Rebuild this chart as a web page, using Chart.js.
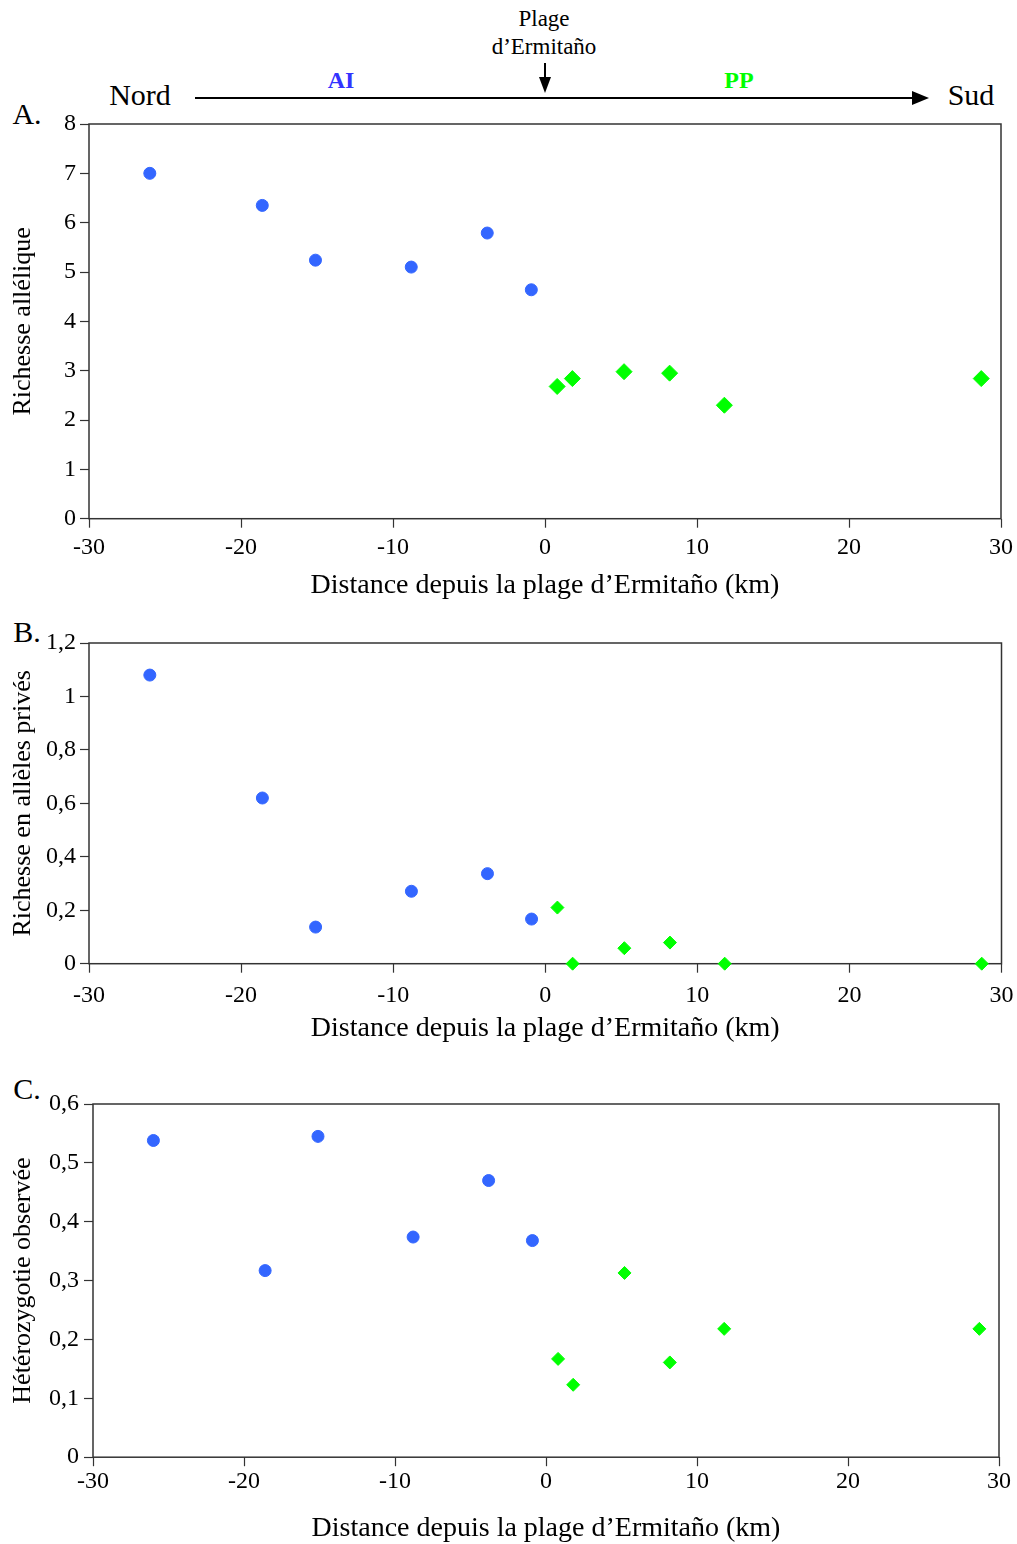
<!DOCTYPE html>
<html><head><meta charset="utf-8">
<script src="https://cdn.jsdelivr.net/npm/chart.js@4.4.1/dist/chart.umd.min.js"></script>
<style>
html,body{margin:0;padding:0;background:#fff;}
#page{position:relative;width:1017px;height:1544px;overflow:hidden;font-family:"Liberation Serif","Times New Roman",serif;color:#000;}
.t{position:absolute;white-space:nowrap;line-height:1;transform:translate(-50%,-50%);}
.cw{position:absolute;left:0;}
</style></head><body>
<div id="page">
<svg width="1017" height="110" style="position:absolute;left:0;top:0">
 <line x1="195" y1="98" x2="914" y2="98" stroke="#000" stroke-width="2"/>
 <polygon points="912,91 929,98 912,105" fill="#000"/>
 <line x1="545" y1="63" x2="545" y2="80" stroke="#000" stroke-width="2"/>
 <polygon points="539,77 551,77 545,93" fill="#000"/>
</svg>
<div class="t" style="left:544px;top:18px;font-size:23px">Plage</div>
<div class="t" style="left:544px;top:46px;font-size:23px">d’Ermitaño</div>
<div class="t" style="left:341px;top:80px;font-size:24px;font-weight:bold;color:#3333ff">AI</div>
<div class="t" style="left:739px;top:80px;font-size:24px;font-weight:bold;color:#00ff00">PP</div>
<div class="t" style="left:140px;top:95px;font-size:30px">Nord</div>
<div class="t" style="left:971px;top:95px;font-size:30px">Sud</div>
<div class="t" style="left:27px;top:114px;font-size:30px">A.</div>
<div class="t" style="left:27px;top:632px;font-size:30px">B.</div>
<div class="t" style="left:27px;top:1089px;font-size:30px">C.</div>
<div class="cw" id="wA"><canvas id="cA"></canvas></div>
<div class="cw" id="wB"><canvas id="cB"></canvas></div>
<div class="cw" id="wC"><canvas id="cC"></canvas></div>
</div>
<script>
// ---------- DATA ----------
const xTitle = "Distance depuis la plage d’Ermitaño (km)";
const distAI = [-26.0, -18.6, -15.1, -8.8, -3.8, -0.9];
const distPP = [0.8, 1.8, 5.2, 8.2, 11.8, 28.7];
const xTicks = [-30, -20, -10, 0, 10, 20, 30];

const titleA = "Richesse allélique";
const richAI = [7.0, 6.35, 5.24, 5.10, 5.79, 4.64];
const richPP = [2.68, 2.84, 2.98, 2.95, 2.30, 2.84];
const yTicksA = [0, 1, 2, 3, 4, 5, 6, 7, 8];

const titleB = "Richesse en allèles privés";
const privAI = [1.08, 0.62, 0.137, 0.271, 0.337, 0.167];
const privPP = [0.21, 0, 0.058, 0.079, 0, 0];
const yTicksB = [0, 0.2, 0.4, 0.6, 0.8, 1, 1.2];

const titleC = "Hétérozygotie observée";
const hetAI = [0.538, 0.317, 0.545, 0.374, 0.470, 0.368];
const hetPP = [0.167, 0.123, 0.313, 0.161, 0.218, 0.218];
const yTicksC = [0, 0.1, 0.2, 0.3, 0.4, 0.5, 0.6];

// ---------- STYLE / LAYOUT ----------
const FONT = "'Liberation Serif','Times New Roman',serif";
const BLUE = '#3366ff', GREEN = '#00ff00';
const TICK_SIZE = 24, XT_SIZE = 28, YT_SIZE = 26, TL = 9;

const framePlugin = {
  id: 'frame',
  beforeDatasetsDraw(chart) {
    const {ctx, chartArea: a} = chart;
    ctx.save();
    ctx.strokeStyle = '#333';
    ctx.lineWidth = 1.5;
    ctx.strokeRect(a.left, a.top, a.right - a.left, a.bottom - a.top);
    ctx.restore();
  }
};

const fmt = v => String(v).replace('.', ',');
const pts = (xs, ys) => xs.map((x, i) => ({x: x, y: ys[i]}));

function makeChart(id, wrapId, lay, yTicks, yTitle, aiVals, ppVals, diamondR) {
  const padTop = 30;
  const canvasTop = lay.T - padTop;
  const xH = lay.titleC + XT_SIZE * 0.6 - lay.B;
  const height = Math.round(lay.B + xH - canvasTop);
  const wrap = document.getElementById(wrapId);
  wrap.style.top = canvasTop + 'px';
  const cv = document.getElementById(id);
  cv.width = 1017; cv.height = height;
  cv.style.width = '1017px'; cv.style.height = height + 'px';
  const xPad = lay.tickC - lay.B - TL - TICK_SIZE * 0.6;
  new Chart(cv, {
    type: 'scatter',
    data: {
      datasets: [
        {label: 'AI', data: pts(distAI, aiVals), pointStyle: 'circle', pointRadius: 6,
         pointHoverRadius: 6, pointBorderWidth: 1, backgroundColor: BLUE, borderColor: BLUE, clip: false},
        {label: 'PP', data: pts(distPP, ppVals), pointStyle: 'rectRot', pointRadius: diamondR,
         pointHoverRadius: diamondR, pointBorderWidth: 1, backgroundColor: GREEN, borderColor: GREEN, clip: false}
      ]
    },
    options: {
      responsive: false, animation: false, devicePixelRatio: 1,
      layout: {padding: {top: padTop, right: 1017 - lay.R, left: 0, bottom: 0}},
      plugins: {legend: {display: false}, tooltip: {enabled: false}},
      events: [],
      scales: {
        x: {
          type: 'linear', min: xTicks[0], max: xTicks[xTicks.length - 1],
          afterBuildTicks: s => { s.ticks = xTicks.map(v => ({value: v})); },
          afterFit: s => { s.height = xH; s.paddingLeft = 0; s.paddingRight = 0; },
          ticks: {color: '#000', font: {family: FONT, size: TICK_SIZE}, padding: xPad, maxRotation: 0,
                  callback: v => fmt(v)},
          grid: {display: true, drawOnChartArea: false, drawTicks: true, tickLength: TL, tickColor: '#333', tickWidth: 1.2},
          border: {display: false},
          title: {display: true, text: xTitle, color: '#000', font: {family: FONT, size: XT_SIZE}, padding: {top: 0, bottom: 0}}
        },
        y: {
          type: 'linear', min: yTicks[0], max: yTicks[yTicks.length - 1],
          afterBuildTicks: s => { s.ticks = yTicks.map(v => ({value: v})); },
          afterFit: s => { s.width = lay.L; s.paddingTop = 0; s.paddingBottom = 0; },
          ticks: {color: '#000', font: {family: FONT, size: TICK_SIZE}, padding: lay.yPad, callback: v => fmt(v)},
          grid: {display: true, drawOnChartArea: false, drawTicks: true, tickLength: TL, tickColor: '#333', tickWidth: 1.2},
          border: {display: false},
          title: {display: true, text: yTitle, color: '#000', font: {family: FONT, size: YT_SIZE}, padding: {top: 8, bottom: 0}}
        }
      }
    },
    plugins: [framePlugin]
  });
}

makeChart('cA', 'wA', {T: 124, B: 518.5, L: 89, R: 1001, tickC: 548, titleC: 585, yPad: 4}, yTicksA, titleA, richAI, richPP, 8);
makeChart('cB', 'wB', {T: 643, B: 963.5, L: 89, R: 1001.5, tickC: 996, titleC: 1028, yPad: 4}, yTicksB, titleB, privAI, privPP, 6.5);
makeChart('cC', 'wC', {T: 1104, B: 1457, L: 93, R: 999, tickC: 1482, titleC: 1528, yPad: 5}, yTicksC, titleC, hetAI, hetPP, 6.5);
</script>
</body></html>
